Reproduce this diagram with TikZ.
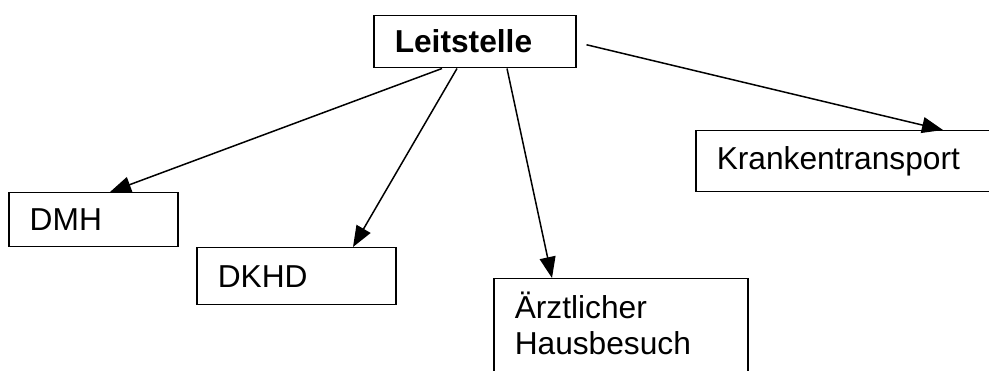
\documentclass[tikz,border=0pt]{standalone}
\usepackage{fontspec}
\setmainfont{Liberation Sans}
\usetikzlibrary{arrows.meta}

\begin{document}
\begin{tikzpicture}[x=1pt, y=-1pt,
    box/.style={draw, line width=1.5pt, anchor=north west, align=left,
      inner xsep=21pt, inner ysep=0pt, font=\fontsize{31.7}{36}\selectfont},
    pfeil/.style={line width=1.5pt, -{Triangle[length=21pt, width=16pt]}}]
			\useasboundingbox (0,0) rectangle (989,371);

			\node[box, text width=160pt, minimum height=52pt, text depth=2pt, font=\fontsize{31.7}{36}\selectfont\bfseries] (leit) at (373,15) {Leitstelle};
			\node[box, text width=127pt, minimum height=54pt] (dmh) at (8,192) {DMH};
			\node[box, text width=157pt, minimum height=57pt] (dkhd) at (196,247) {DKHD};
			\node[box, align=none, inner ysep=13pt] (arzt) at (493,278) {\parbox[t][90pt][t]{212pt}{Ärztlicher\\Hausbesuch}};
			\node[box, text width=268pt, minimum height=61pt] (kt) at (695,130) {Krankentransport};

			\draw[pfeil] ([xshift=69pt]leit.south west) -- ([xshift=102pt]dmh.north west);
			\draw[pfeil] ([xshift=84pt]leit.south west) -- ([xshift=157pt]dkhd.north west);
			\draw[pfeil] ([xshift=134pt]leit.south west) -- ([xshift=59pt]arzt.north west);
			\draw[pfeil] ([xshift=10pt,yshift=-3pt]leit.east) -- ([xshift=248pt]kt.north west);
		\end{tikzpicture}
\end{document}
